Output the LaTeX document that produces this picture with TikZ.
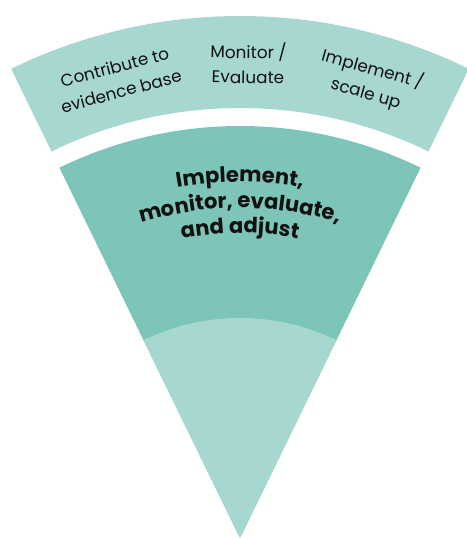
\documentclass[tikz,border=0pt]{standalone}
\usepackage{fontspec}
\setsansfont{Poppins}
\usepackage{tikz}
\usetikzlibrary{decorations.text}
\definecolor{tealpale}{HTML}{A6D7D0}
\definecolor{tealmid}{HTML}{7DC5B9}
\definecolor{ink}{HTML}{111111}
\tikzset{
  every picture/.style={font=\sffamily},
  ring/.style={fill=tealpale},
  wedge/.style={fill=tealmid},
  core/.style={fill=tealpale},
  stage/.style={text=ink, align=center, inner sep=0pt,
                font=\sffamily\fontsize{12}{17.8}\selectfont},
  bent/.style={decorate, decoration={text along path, text align=center,
               text={|\color{ink}\sffamily\bfseries\fontsize{15}{18}\selectfont|#1}}},
}

\begin{document}
\begin{tikzpicture}
  \useasboundingbox (-6,0) rectangle (5.65,13.45);
  % outer band, then the wedge with its lighter tip
  \fill[ring] (64:10.75) arc[start angle=64, end angle=116, radius=10.75]
    -- (116:13.05) arc[start angle=116, end angle=64, radius=13.05] -- cycle;
  \fill[wedge] (0,0) -- (64:10.3) arc[start angle=64, end angle=116, radius=10.3] -- cycle;
  \fill[core] (0,0) -- (64:5.5) arc[start angle=64, end angle=116, radius=5.5] -- cycle;
  % band labels
  \node[stage, rotate=14.9] (contrib) at (104.9:11.875) {Contribute to\\evidence base};
  \node[stage, rotate=-1] (monitor) at (89:11.875) {Monitor /\\Evaluate};
  \node[stage, rotate=-15.8] (scale) at (74.2:11.875) {Implement /\\scale up};
  % curved title lines
  \path[bent={Implement,}] (125:8.9) arc[start angle=125, end angle=55, radius=8.9];
  \path[bent={monitor, evaluate,}] (125:8.25) arc[start angle=125, end angle=55, radius=8.25];
  \path[bent={and adjust}] (125:7.625) arc[start angle=125, end angle=55, radius=7.625];
\end{tikzpicture}
\end{document}
